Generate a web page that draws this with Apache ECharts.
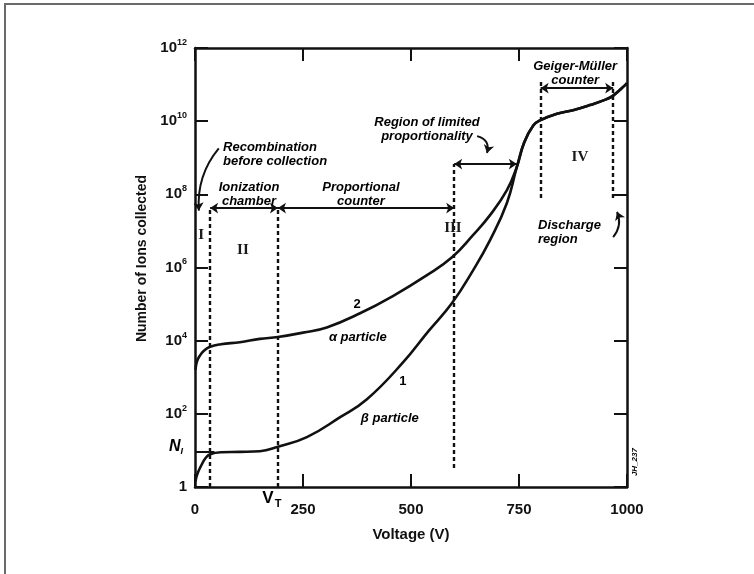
<!DOCTYPE html>
<html><head><meta charset="utf-8">
<script src="https://cdn.jsdelivr.net/npm/echarts@6/dist/echarts.min.js"></script>
<style>html,body{margin:0;padding:0;background:#fff}#c{width:754px;height:574px}</style>
</head><body><div id="c"></div>
<script>
// ---- data ----
const voltageTicks = [0, 250, 500, 750, 1000];
const alphaVoltage = [1, 5, 12, 20, 35, 60, 104, 150, 192, 250, 305, 382, 458, 537, 595, 644, 683, 722];
const alphaIons = [1.6e3, 2.8e3, 4.0e3, 5.2e3, 6.8e3, 8.0e3, 9.1e3, 1.12e4, 1.26e4, 1.66e4, 2.3e4, 5.6e4, 1.66e5, 6.2e5, 1.9e6, 7.8e6, 2.7e7, 1.3e8];
const betaVoltage = [1, 5, 15, 25, 35, 60, 104, 150, 192, 259, 336, 398, 481, 540, 595, 644, 683, 722];
const betaIons = [1.4, 2.2, 4.0, 6.3, 7.9, 8.9, 9.1, 9.5, 12.6, 23, 81, 250, 2.5e3, 1.8e4, 1.07e5, 8.5e5, 5.6e6, 5.8e7];
const sharedVoltage = [745, 762, 783, 800, 838, 875, 914, 953, 968, 995, 1000];
const sharedIons = [5.6e8, 2.6e9, 7.6e9, 1.07e10, 1.6e10, 2.0e10, 2.75e10, 4.0e10, 5.0e10, 9.5e10, 1.1e11];
const primaryIons = 9; // N_I
const yTickValues = [1, 1e2, 1e4, 1e6, 1e8, 1e10, 1e12];
const boundaryVoltage = [35, 192, 600, 800, 968];
const boundaryLow = [1, 1, 3.3, 7.9e7, 8e7];
const boundaryHigh = [4.2e7, 4.2e7, 6.7e8, 1.3e11, 1.3e11];
const spanFrom = [35, 192, 600, 800];
const spanTo = [192, 600, 745, 968];
const spanLevel = [4.2e7, 4.2e7, 6.7e8, 8e10];

// ---- build ----
const zip = (a, b) => a.map((v, i) => [v, b[i]]);
const INK = '#000';
const SANS = 'Liberation Sans';

const noteStyle = {fontFamily: SANS, fontWeight: 'bold', fontStyle: 'italic', fontSize: 13, lineHeight: 14, color: INK};
const romanStyle = {fontFamily: 'Liberation Serif', fontWeight: 'bold', fontSize: 15, color: '#1a1a1a'};
const numStyle = {fontFamily: SANS, fontWeight: 'bold', fontSize: 13, color: INK};

const notes = [
  {at: [65, 1.2e9], text: 'Recombination\nbefore collection', align: 'left', style: noteStyle},
  {at: [125, 1e8], text: 'Ionization\nchamber', style: noteStyle},
  {at: [384, 1e8], text: 'Proportional\ncounter', style: noteStyle},
  {at: [537, 6e9], text: 'Region of limited\nproportionality', style: noteStyle},
  {at: [880, 2.05e11], text: 'Geiger-Müller\ncounter', style: noteStyle},
  {at: [794, 9.3e6], text: 'Discharge\nregion', align: 'left', style: noteStyle},
  {at: [14, 7.7e6], text: 'I', style: romanStyle},
  {at: [111, 3e6], text: 'II', style: romanStyle},
  {at: [597, 1.2e7], text: 'III', style: romanStyle},
  {at: [891, 1.05e9], text: 'IV', style: romanStyle},
  {at: [375, 1e5], text: '2', style: numStyle},
  {at: [377, 1.2e4], text: 'α particle', style: noteStyle},
  {at: [481, 790], text: '1', style: numStyle},
  {at: [451, 77], text: 'β particle', style: noteStyle},
  {at: [178, 0.5], text: 'V{t|T}', style: {fontFamily: SANS, fontWeight: 'bold', fontSize: 17, color: INK,
      rich: {t: {fontFamily: SANS, fontWeight: 'bold', fontSize: 11, color: INK, padding: [12, 0, 0, 1]}}}},
  {at: [-44, 13], text: 'N{t|I}', style: {fontFamily: SANS, fontWeight: 'bold', fontStyle: 'italic', fontSize: 16, color: INK,
      rich: {t: {fontFamily: SANS, fontWeight: 'bold', fontSize: 9, color: INK, padding: [10, 0, 0, 0]}}}},
  {at: [1019, 4.8], text: 'JH_237', rotate: 90, style: {fontFamily: SANS, fontStyle: 'italic', fontWeight: 'bold', fontSize: 8, color: INK}}
];

const axisLineStyle = {color: '#111', width: 2.5};
const tickStyle = {inside: true, length: 13, lineStyle: {color: '#111', width: 2}};
const curveStyle = {color: '#111', width: 2.6};

const expLabel = v => {
  const e = Math.round(Math.log10(v));
  return e === 0 ? '{b|1}' : '{b|10}{s|' + e + '}';
};

const dashedLines = boundaryVoltage.map((v, i) => [{coord: [v, boundaryLow[i]]}, {coord: [v, boundaryHigh[i]]}]);
const spanArrows = spanFrom.map((v, i) => [{coord: [v, spanLevel[i]]}, {coord: [spanTo[i], spanLevel[i]]}]);
const tail = zip(sharedVoltage, sharedIons);

const yAxisBase = {
  type: 'log', logBase: 100, min: yTickValues[0], max: yTickValues[yTickValues.length - 1], splitNumber: yTickValues.length - 1,
  axisLine: {onZero: false, lineStyle: axisLineStyle},
  axisTick: tickStyle, splitLine: {show: false}, minorTick: {show: false}
};

const chart = echarts.init(document.getElementById('c'), null, {renderer: 'canvas'});
chart.setOption({
  animation: false,
  backgroundColor: '#fff',
  grid: {left: 195, right: 127, top: 48, bottom: 87, containLabel: false},
  graphic: [
    {type: 'line', shape: {x1: 5, y1: 4, x2: 5, y2: 574}, style: {stroke: '#6a6a6a', lineWidth: 2}},
    {type: 'line', shape: {x1: 4, y1: 4, x2: 754, y2: 4}, style: {stroke: '#6a6a6a', lineWidth: 2}}
  ],
  xAxis: [{
    type: 'value', min: voltageTicks[0], max: voltageTicks[voltageTicks.length - 1], interval: voltageTicks[1] - voltageTicks[0],
    name: 'Voltage (V)', nameLocation: 'middle', nameGap: 40,
    nameTextStyle: {fontFamily: SANS, fontWeight: 'bold', fontSize: 15, color: '#111'},
    axisLine: {onZero: false, lineStyle: axisLineStyle},
    axisTick: tickStyle,
    axisLabel: {margin: 15, fontFamily: SANS, fontWeight: 'bold', fontSize: 15, color: '#111', formatter: v => String(v)},
    splitLine: {show: false}
  }, {
    type: 'value', position: 'top', min: voltageTicks[0], max: voltageTicks[voltageTicks.length - 1], interval: voltageTicks[1] - voltageTicks[0],
    axisLine: {onZero: false, lineStyle: axisLineStyle},
    axisTick: tickStyle, axisLabel: {show: false}, splitLine: {show: false}
  }],
  yAxis: [Object.assign({}, yAxisBase, {
    name: 'Number of Ions collected', nameLocation: 'middle', nameGap: 45, nameRotate: 90,
    nameTextStyle: {fontFamily: SANS, fontWeight: 'bold', fontSize: 14, color: '#111', padding: [0, 0, 0, 18]},
    axisLabel: {margin: 8, formatter: expLabel, color: '#111',
      rich: {b: {fontFamily: SANS, fontWeight: 'bold', fontSize: 15, color: '#111'},
             s: {fontFamily: SANS, fontWeight: 'bold', fontSize: 9, color: '#111', padding: [0, 0, 11, 0]}}}
  }), Object.assign({}, yAxisBase, {position: 'right', axisLabel: {show: false}})],
  series: [
    {
      name: 'alpha particle', type: 'line', smooth: 0.45, symbol: 'none',
      data: zip(alphaVoltage, alphaIons).concat(tail),
      lineStyle: curveStyle, z: 5,
      markLine: {
        silent: true, symbol: ['none', 'none'], label: {show: false},
        lineStyle: {color: '#111', width: 2.4, type: [4, 3]},
        data: dashedLines
      }
    },
    {
      name: 'beta particle', type: 'line', smooth: 0.45, symbol: 'none',
      data: zip(betaVoltage, betaIons).concat(tail),
      lineStyle: curveStyle, z: 5,
      markLine: {
        silent: true, symbol: ['arrow', 'arrow'], symbolSize: 8, label: {show: false},
        lineStyle: {color: '#111', width: 2, type: 'solid'},
        data: spanArrows.concat([[{coord: [0, primaryIons], symbol: 'none'}, {coord: [45, primaryIons], symbol: 'none'}]])
      }
    },
    {
      type: 'lines', coordinateSystem: 'cartesian2d', silent: true, z: 6,
      symbol: ['none', 'arrow'], symbolSize: 8,
      lineStyle: {color: '#111', width: 2, opacity: 1},
      data: [
        {coords: [[55, 1.8e9], [9, 3.6e7]], lineStyle: {curveness: -0.2}},
        {coords: [[653, 3.9e9], [676, 1.35e9]], lineStyle: {curveness: 0.5}},
        {coords: [[968, 6.8e6], [977, 3.3e7]], lineStyle: {curveness: -0.3}}
      ]
    },
    {
      type: 'scatter', symbolSize: 0, clip: false, silent: true, z: 7,
      itemStyle: {opacity: 1},
      data: notes.map(n => ({
        value: n.at,
        label: Object.assign({show: true, position: 'inside', formatter: n.text, textBorderWidth: 0, opacity: 1,
          align: n.align || 'center', verticalAlign: 'middle', rotate: n.rotate || 0}, n.style)
      }))
    }
  ]
});
</script>
</body></html>
